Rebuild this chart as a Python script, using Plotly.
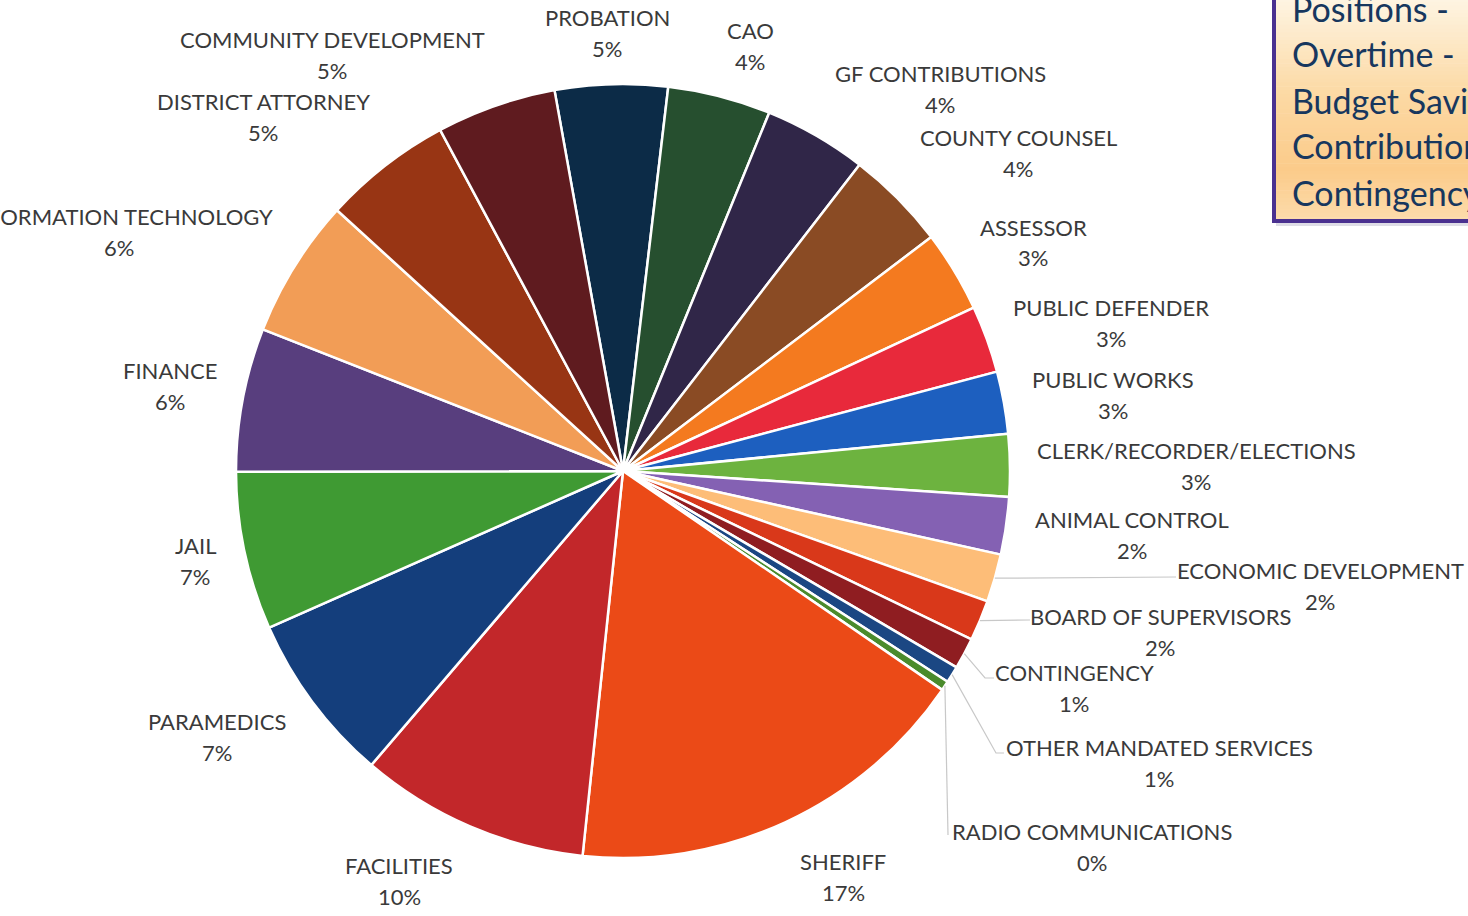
import math
import plotly.graph_objects as go

W, H = 1468, 916

# ---------------- data ----------------
departments = [
    "PROBATION", "CAO", "GF CONTRIBUTIONS", "COUNTY COUNSEL", "ASSESSOR",
    "PUBLIC DEFENDER", "PUBLIC WORKS", "CLERK/RECORDER/ELECTIONS",
    "ANIMAL CONTROL", "ECONOMIC DEVELOPMENT", "BOARD OF SUPERVISORS",
    "CONTINGENCY", "OTHER MANDATED SERVICES", "RADIO COMMUNICATIONS",
    "SHERIFF", "FACILITIES", "PARAMEDICS", "JAIL", "FINANCE",
    "INFORMATION TECHNOLOGY", "DISTRICT ATTORNEY", "COMMUNITY DEVELOPMENT",
]
shares = [4.7, 4.3, 4.3, 4.2, 3.4, 2.8, 2.6, 2.6, 2.4, 2.0, 1.7, 1.3, 0.7, 0.4,
          17.1, 9.6, 7.1, 6.6, 6.0, 5.8, 5.4, 5.0]
box_lines = ["Positions -", "Overtime -", "Budget Savings", "Contributions", "Contingency"]

# ---------------- style ----------------
colors = [
    "#0c2b47", "#264f2f", "#302648", "#8a4b24", "#f47a1f",
    "#e8293b", "#1d5fbf", "#6db33f", "#8461b3", "#fdbd78",
    "#d9381a", "#8f1d21", "#1b4783", "#4a8b2c", "#eb4a17",
    "#c2272a", "#143e7c", "#3f9a33", "#583e7e", "#f29d56",
    "#983514", "#5f1b1f",
]
FONT = "Lato"
TXT = "#3a3a3a"
FS = 22
CX, CY, R = 623, 471, 387          # pie centre / radius in px
ROT = -10.2                         # start angle of first slice (deg, clockwise from 12)

# label anchor (centre x, y of name line) in px
label_pos = {
    "PROBATION": (607, 18), "CAO": (750, 31), "GF CONTRIBUTIONS": (940, 73),
    "COUNTY COUNSEL": (1018, 138), "ASSESSOR": (1033, 227),
    "PUBLIC DEFENDER": (1111, 307), "PUBLIC WORKS": (1113, 379),
    "CLERK/RECORDER/ELECTIONS": (1196, 450), "ANIMAL CONTROL": (1132, 519),
    "ECONOMIC DEVELOPMENT": (1320, 570), "BOARD OF SUPERVISORS": (1160, 616),
    "CONTINGENCY": (1074, 672), "OTHER MANDATED SERVICES": (1159, 747),
    "RADIO COMMUNICATIONS": (1092, 831), "SHERIFF": (843, 861),
    "FACILITIES": (399, 865), "PARAMEDICS": (217, 721), "JAIL": (195, 545),
    "FINANCE": (170, 370), "INFORMATION TECHNOLOGY": (119, 216),
    "DISTRICT ATTORNEY": (263, 101), "COMMUNITY DEVELOPMENT": (332, 39),
}
pct_offset = {"ECONOMIC DEVELOPMENT": (0, 31)}
# leader line elbow points (px) for the small slices
leaders = {
    "ECONOMIC DEVELOPMENT": [(1176, 577)],
    "BOARD OF SUPERVISORS": [(1030, 620)],
    "CONTINGENCY": [(985, 678), (994, 678)],
    "OTHER MANDATED SERVICES": [(996, 753), (1004, 753)],
    "RADIO COMMUNICATIONS": [(948, 835)],
}


def px(x, y):
    return x / W, 1 - y / H


fig = go.Figure()
fig.add_trace(go.Pie(
    labels=departments, values=shares, sort=False, direction="clockwise",
    rotation=ROT, textinfo="none", hoverinfo="label+percent",
    marker=dict(colors=colors, line=dict(color="white", width=2.5)),
    domain=dict(x=[(CX - R) / W, (CX + R) / W], y=[(H - CY - R) / H, (H - CY + R) / H]),
    showlegend=False,
))

total = sum(shares)
annotations = []
shapes = []
cum = 0.0
for name, v in zip(departments, shares):
    mid = math.radians(ROT + (cum + v / 2) / total * 360)
    cum += v
    lx, ly = label_pos[name]
    pct = f"{round(v / total * 100):.0f}%"
    ax, ay = px(lx, ly)
    annotations.append(dict(x=ax, y=ay, xref="paper", yref="paper", text=name,
                            showarrow=False, xanchor="center", yanchor="middle",
                            font=dict(family=FONT, size=FS, color=TXT)))
    ox, oy = pct_offset.get(name, (0, 31))
    bx, by = px(lx + ox, ly + oy)
    annotations.append(dict(x=bx, y=by, xref="paper", yref="paper", text=pct,
                            showarrow=False, xanchor="center", yanchor="middle",
                            font=dict(family=FONT, size=FS, color=TXT)))
    if name in leaders:
        sx, sy = CX + R * math.sin(mid), CY - R * math.cos(mid)
        pts = [(sx, sy)] + leaders[name]
        path = "M " + " L ".join(f"{px(a, b)[0]:.5f},{px(a, b)[1]:.5f}" for a, b in pts)
        shapes.append(dict(type="path", path=path, xref="paper", yref="paper",
                           line=dict(color="#c8c8c8", width=1.2)))

# ---------------- top-right box (vertical gradient) ----------------
stops = [(0.0, (254, 247, 232)), (0.45, (252, 217, 164)),
         (0.78, (251, 203, 138)), (1.0, (253, 220, 172))]


def grad_color(t):
    for (t0, c0), (t1, c1) in zip(stops[:-1], stops[1:]):
        if t0 <= t <= t1:
            f = (t - t0) / (t1 - t0)
            return "rgb(%d,%d,%d)" % tuple(round(a + (b - a) * f) for a, b in zip(c0, c1))
    return "rgb(%d,%d,%d)" % stops[-1][1]


bx0, bx1, by0, by1 = 1274, 1480, -10, 221
n = 60
for i in range(n):
    y0 = by0 + (by1 - by0) * i / n
    y1 = by0 + (by1 - by0) * (i + 1) / n + 0.6
    shapes.append(dict(type="rect", xref="paper", yref="paper",
                       x0=px(bx0, 0)[0], x1=px(bx1, 0)[0],
                       y0=px(0, y1)[1], y1=px(0, y0)[1],
                       fillcolor=grad_color((i + 0.5) / n), line=dict(width=0), layer="below"))
# shadow
shapes.append(dict(type="rect", xref="paper", yref="paper",
                   x0=px(bx0 + 2, 0)[0], x1=px(bx1, 0)[0],
                   y0=px(0, by1 + 5)[1], y1=px(0, by1)[1],
                   fillcolor="#dedde6", line=dict(width=0), layer="below"))
shapes.append(dict(type="rect", xref="paper", yref="paper",
                   x0=px(bx0, 0)[0], x1=px(bx1, 0)[0],
                   y0=px(0, by1)[1], y1=px(0, by0)[1],
                   fillcolor="rgba(0,0,0,0)", line=dict(color="#4a3190", width=4)))
for i, t in enumerate(box_lines):
    tx, ty = px(1290, 8 + 46 * i)
    annotations.append(dict(x=tx, y=ty, xref="paper", yref="paper", text=t,
                            showarrow=False, xanchor="left", yanchor="middle",
                            font=dict(family=FONT, size=34, color="#17375e")))

fig.update_layout(
    width=W, height=H, margin=dict(l=0, r=0, t=0, b=0),
    paper_bgcolor="white", plot_bgcolor="white",
    annotations=annotations, shapes=shapes,
)
fig.write_html("out.html", config={"displayModeBar": False},
               post_script="document.body.style.margin='0';document.body.style.overflow='hidden';")
